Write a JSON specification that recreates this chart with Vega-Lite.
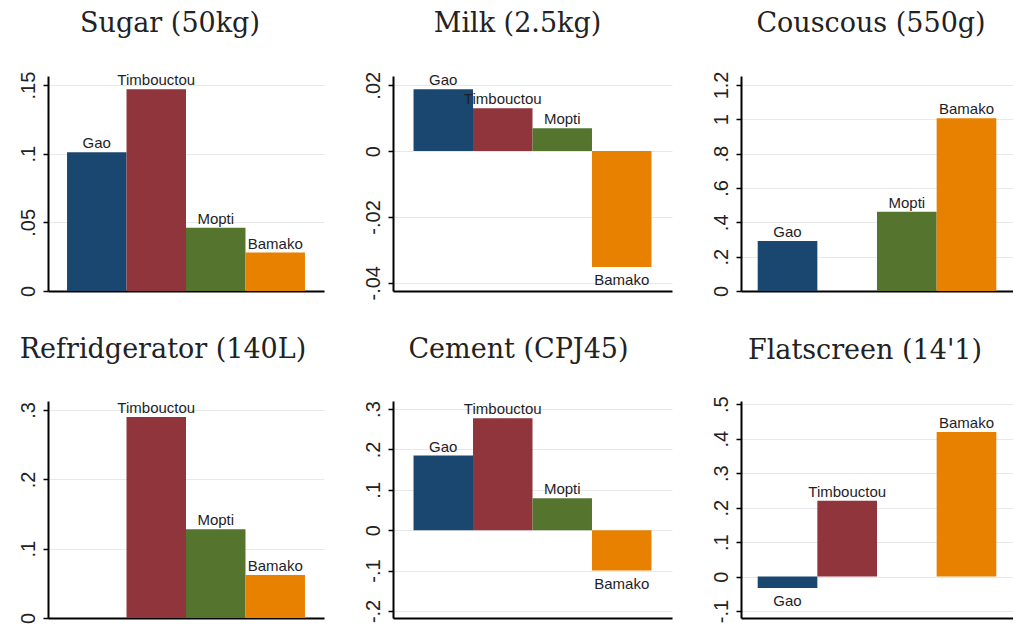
{
  "$schema": "https://vega.github.io/schema/vega-lite/v6.json",
  "autosize": {"type": "pad"},
  "padding": {"left": 18, "top": 10, "right": 0, "bottom": 0},
  "background": "white",
  "datasets": {
    "prices": [
      {"panel": "Sugar", "city": "Gao", "value": 0.101},
      {"panel": "Sugar", "city": "Timbouctou", "value": 0.147},
      {"panel": "Sugar", "city": "Mopti", "value": 0.046},
      {"panel": "Sugar", "city": "Bamako", "value": 0.028},
      {"panel": "Milk", "city": "Gao", "value": 0.0188},
      {"panel": "Milk", "city": "Timbouctou", "value": 0.013},
      {"panel": "Milk", "city": "Mopti", "value": 0.0069},
      {"panel": "Milk", "city": "Bamako", "value": -0.0352},
      {"panel": "Couscous", "city": "Gao", "value": 0.291},
      {"panel": "Couscous", "city": "Mopti", "value": 0.462},
      {"panel": "Couscous", "city": "Bamako", "value": 1.006},
      {"panel": "Refridgerator", "city": "Timbouctou", "value": 0.29},
      {"panel": "Refridgerator", "city": "Mopti", "value": 0.128},
      {"panel": "Refridgerator", "city": "Bamako", "value": 0.062},
      {"panel": "Cement", "city": "Gao", "value": 0.185},
      {"panel": "Cement", "city": "Timbouctou", "value": 0.277},
      {"panel": "Cement", "city": "Mopti", "value": 0.079},
      {"panel": "Cement", "city": "Bamako", "value": -0.1},
      {"panel": "Flatscreen", "city": "Gao", "value": -0.033},
      {"panel": "Flatscreen", "city": "Timbouctou", "value": 0.22},
      {"panel": "Flatscreen", "city": "Bamako", "value": 0.419}
    ]
  },
  "config": {
    "view": {"stroke": null},
    "title": {"font": "DejaVu Serif", "fontSize": 27, "fontWeight": "normal", "color": "#222222", "anchor": "middle", "frame": "group", "baseline": "alphabetic"},
    "axisY": {"domainColor": "#000000", "domainWidth": 2, "tickColor": "#000000", "tickWidth": 1.5, "tickSize": 5, "grid": true, "gridColor": "#e8e8e8", "gridWidth": 1, "labelAngle": -90, "labelAlign": "center", "labelBaseline": "bottom", "labelFont": "Liberation Sans", "labelFontSize": 20, "labelColor": "#222222", "labelPadding": 5, "title": null, "labelExpr": "replace(replace(format(datum.value,'~g'),'\u2212','-'),'0.','.')"},
    "axisX": {"domainColor": "#000000", "domainWidth": 2, "ticks": false, "labels": false, "title": null, "grid": false},
    "text": {"font": "Liberation Sans", "fontSize": 15, "color": "#1e1e28"}
  },
  "columns": 3,
  "spacing": {"row": 110, "column": 69},
  "align": "each",
  "bounds": "flush",
  "concat": [
    {
      "data": {"name": "prices"},
      "transform": [{"filter": "datum.panel == 'Sugar'"}],
      "width": 276, "height": 215,
      "title": {"text": "Sugar (50kg)", "dx": -16, "offset": 33},
      "encoding": {
        "x": {"field": "city", "type": "nominal", "scale": {"domain": ["Gao", "Timbouctou", "Mopti", "Bamako"], "paddingInner": 0, "paddingOuter": 0.32}},
        "y": {"field": "value", "type": "quantitative", "scale": {"domain": [0, 0.1566], "nice": false, "zero": false}, "axis": {"values": [0, 0.05, 0.1, 0.15]}}
      },
      "layer": [
        {"mark": {"type": "bar"}, "encoding": {"color": {"field": "city", "type": "nominal", "scale": {"domain": ["Gao", "Timbouctou", "Mopti", "Bamako"], "range": ["#1a476f", "#90353b", "#55752f", "#e88000"]}, "legend": null}}},
        {"transform": [{"filter": "datum.value >= 0"}], "mark": {"type": "text", "baseline": "alphabetic", "dy": -4}, "encoding": {"text": {"field": "city"}}},
        {"transform": [{"filter": "datum.value < 0"}], "mark": {"type": "text", "baseline": "top", "dy": 6}, "encoding": {"text": {"field": "city"}}}
      ]
    },
    {
      "data": {"name": "prices"},
      "transform": [{"filter": "datum.panel == 'Milk'"}],
      "width": 279, "height": 215,
      "title": {"text": "Milk (2.5kg)", "dx": -15, "offset": 33},
      "encoding": {
        "x": {"field": "city", "type": "nominal", "scale": {"domain": ["Gao", "Timbouctou", "Mopti", "Bamako"], "paddingInner": 0, "paddingOuter": 0.345}},
        "y": {"field": "value", "type": "quantitative", "scale": {"domain": [-0.0425, 0.0228], "nice": false, "zero": false}, "axis": {"values": [-0.04, -0.02, 0, 0.02]}}
      },
      "layer": [
        {"mark": {"type": "bar"}, "encoding": {"color": {"field": "city", "type": "nominal", "scale": {"domain": ["Gao", "Timbouctou", "Mopti", "Bamako"], "range": ["#1a476f", "#90353b", "#55752f", "#e88000"]}, "legend": null}}},
        {"transform": [{"filter": "datum.value >= 0"}], "mark": {"type": "text", "baseline": "alphabetic", "dy": -4}, "encoding": {"text": {"field": "city"}}},
        {"transform": [{"filter": "datum.value < 0"}], "mark": {"type": "text", "baseline": "top", "dy": 6}, "encoding": {"text": {"field": "city"}}}
      ]
    },
    {
      "data": {"name": "prices"},
      "transform": [{"filter": "datum.panel == 'Couscous'"}],
      "width": 272, "height": 215,
      "title": {"text": "Couscous (550g)", "dx": -6, "offset": 33},
      "encoding": {
        "x": {"field": "city", "type": "nominal", "scale": {"domain": ["Gao", "Timbouctou", "Mopti", "Bamako"], "paddingInner": 0, "paddingOuter": 0.28}},
        "y": {"field": "value", "type": "quantitative", "scale": {"domain": [0, 1.252], "nice": false, "zero": false}, "axis": {"values": [0, 0.2, 0.4, 0.6, 0.8, 1, 1.2]}}
      },
      "layer": [
        {"mark": {"type": "bar"}, "encoding": {"color": {"field": "city", "type": "nominal", "scale": {"domain": ["Gao", "Timbouctou", "Mopti", "Bamako"], "range": ["#1a476f", "#90353b", "#55752f", "#e88000"]}, "legend": null}}},
        {"transform": [{"filter": "datum.value >= 0"}], "mark": {"type": "text", "baseline": "alphabetic", "dy": -4}, "encoding": {"text": {"field": "city"}}},
        {"transform": [{"filter": "datum.value < 0"}], "mark": {"type": "text", "baseline": "top", "dy": 6}, "encoding": {"text": {"field": "city"}}}
      ]
    },
    {
      "data": {"name": "prices"},
      "transform": [{"filter": "datum.panel == 'Refridgerator'"}],
      "width": 276, "height": 217,
      "title": {"text": "Refridgerator (140L)", "dx": -23, "offset": 37},
      "encoding": {
        "x": {"field": "city", "type": "nominal", "scale": {"domain": ["Gao", "Timbouctou", "Mopti", "Bamako"], "paddingInner": 0, "paddingOuter": 0.32}},
        "y": {"field": "value", "type": "quantitative", "scale": {"domain": [0, 0.313], "nice": false, "zero": false}, "axis": {"values": [0, 0.1, 0.2, 0.3]}}
      },
      "layer": [
        {"mark": {"type": "bar"}, "encoding": {"color": {"field": "city", "type": "nominal", "scale": {"domain": ["Gao", "Timbouctou", "Mopti", "Bamako"], "range": ["#1a476f", "#90353b", "#55752f", "#e88000"]}, "legend": null}}},
        {"transform": [{"filter": "datum.value >= 0"}], "mark": {"type": "text", "baseline": "alphabetic", "dy": -4}, "encoding": {"text": {"field": "city"}}},
        {"transform": [{"filter": "datum.value < 0"}], "mark": {"type": "text", "baseline": "top", "dy": 6}, "encoding": {"text": {"field": "city"}}}
      ]
    },
    {
      "data": {"name": "prices"},
      "transform": [{"filter": "datum.panel == 'Cement'"}],
      "width": 279, "height": 217,
      "title": {"text": "Cement (CPJ45)", "dx": -14, "offset": 37},
      "encoding": {
        "x": {"field": "city", "type": "nominal", "scale": {"domain": ["Gao", "Timbouctou", "Mopti", "Bamako"], "paddingInner": 0, "paddingOuter": 0.345}},
        "y": {"field": "value", "type": "quantitative", "scale": {"domain": [-0.2175, 0.32], "nice": false, "zero": false}, "axis": {"values": [-0.2, -0.1, 0, 0.1, 0.2, 0.3]}}
      },
      "layer": [
        {"mark": {"type": "bar"}, "encoding": {"color": {"field": "city", "type": "nominal", "scale": {"domain": ["Gao", "Timbouctou", "Mopti", "Bamako"], "range": ["#1a476f", "#90353b", "#55752f", "#e88000"]}, "legend": null}}},
        {"transform": [{"filter": "datum.value >= 0"}], "mark": {"type": "text", "baseline": "alphabetic", "dy": -4}, "encoding": {"text": {"field": "city"}}},
        {"transform": [{"filter": "datum.value < 0"}], "mark": {"type": "text", "baseline": "top", "dy": 6}, "encoding": {"text": {"field": "city"}}}
      ]
    },
    {
      "data": {"name": "prices"},
      "transform": [{"filter": "datum.panel == 'Flatscreen'"}],
      "width": 272, "height": 217,
      "title": {"text": "Flatscreen (14'1)", "dx": -12, "offset": 31},
      "encoding": {
        "x": {"field": "city", "type": "nominal", "scale": {"domain": ["Gao", "Timbouctou", "Mopti", "Bamako"], "paddingInner": 0, "paddingOuter": 0.28}},
        "y": {"field": "value", "type": "quantitative", "scale": {"domain": [-0.12, 0.509], "nice": false, "zero": false}, "axis": {"values": [-0.1, 0, 0.1, 0.2, 0.3, 0.4, 0.5]}}
      },
      "layer": [
        {"mark": {"type": "bar"}, "encoding": {"color": {"field": "city", "type": "nominal", "scale": {"domain": ["Gao", "Timbouctou", "Mopti", "Bamako"], "range": ["#1a476f", "#90353b", "#55752f", "#e88000"]}, "legend": null}}},
        {"transform": [{"filter": "datum.value >= 0"}], "mark": {"type": "text", "baseline": "alphabetic", "dy": -4}, "encoding": {"text": {"field": "city"}}},
        {"transform": [{"filter": "datum.value < 0"}], "mark": {"type": "text", "baseline": "top", "dy": 6}, "encoding": {"text": {"field": "city"}}}
      ]
    }
  ]
}
